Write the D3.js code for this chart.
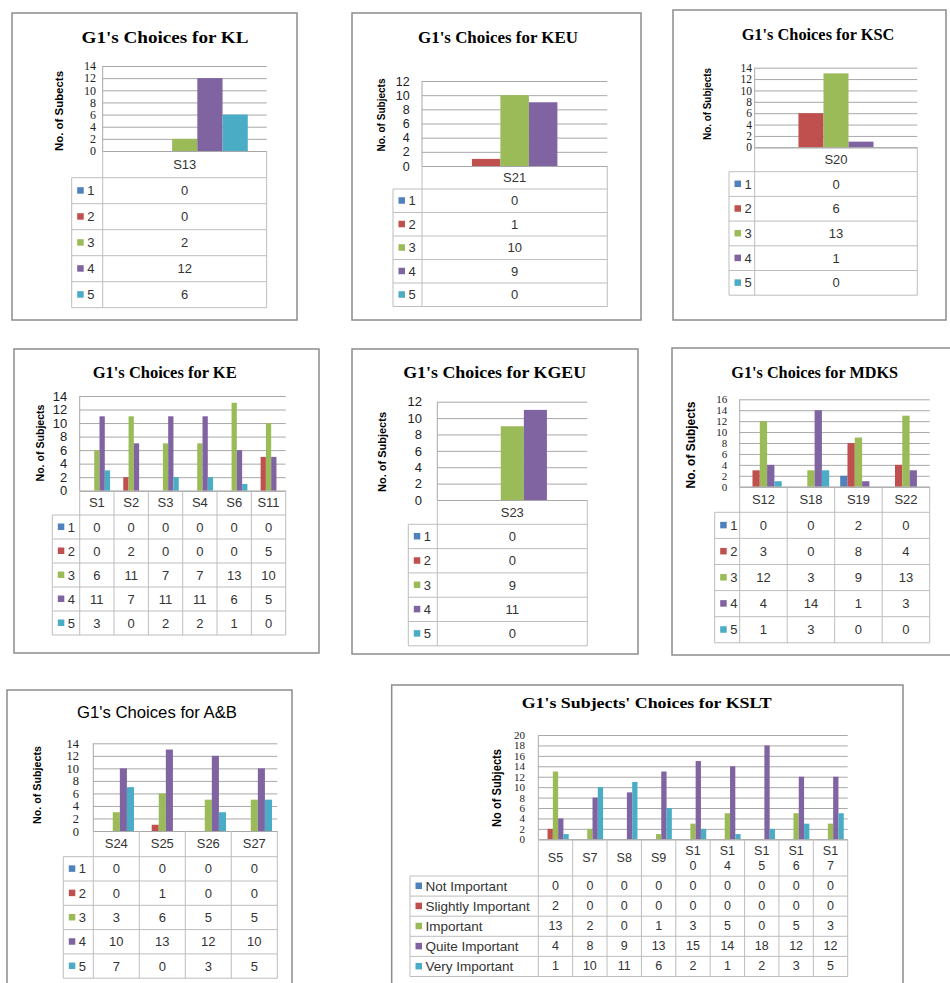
<!DOCTYPE html>
<html>
<head>
<meta charset="utf-8">
<script src="https://cdn.jsdelivr.net/npm/d3@7"></script>
<style>
body { margin: 0; background: #fff; }
svg { display: block; }
</style>
</head>
<body>
<svg id="chart" width="950" height="983"></svg>
<script>
// series (rows of every table)
const series_colors = ["#4F81BD", "#C0504D", "#9BBB59", "#8064A2", "#4BACC6"];
const rating_names = ["1", "2", "3", "4", "5"];
const kslt_names = ["Not Important", "Slightly Important", "Important", "Quite Important", "Very Important"];

// values per series, one entry per category
const kl_cats = ["S13"];
const kl_values = [[0], [0], [2], [12], [6]];

const keu_cats = ["S21"];
const keu_values = [[0], [1], [10], [9], [0]];

const ksc_cats = ["S20"];
const ksc_values = [[0], [6], [13], [1], [0]];

const ke_cats = ["S1", "S2", "S3", "S4", "S6", "S11"];
const ke_values = [
    [0, 0, 0, 0, 0, 0],
    [0, 2, 0, 0, 0, 5],
    [6, 11, 7, 7, 13, 10],
    [11, 7, 11, 11, 6, 5],
    [3, 0, 2, 2, 1, 0]
];

const kgeu_cats = ["S23"];
const kgeu_values = [[0], [0], [9], [11], [0]];

const mdks_cats = ["S12", "S18", "S19", "S22"];
const mdks_values = [
    [0, 0, 2, 0],
    [3, 0, 8, 4],
    [12, 3, 9, 13],
    [4, 14, 1, 3],
    [1, 3, 0, 0]
];

const ab_cats = ["S24", "S25", "S26", "S27"];
const ab_values = [
    [0, 0, 0, 0],
    [0, 1, 0, 0],
    [3, 6, 5, 5],
    [10, 13, 12, 10],
    [7, 0, 3, 5]
];

const kslt_cats = ["S5", "S7", "S8", "S9", "S10", "S14", "S15", "S16", "S17"];
const kslt_values = [
    [0, 0, 0, 0, 0, 0, 0, 0, 0],
    [2, 0, 0, 0, 0, 0, 0, 0, 0],
    [13, 2, 0, 1, 3, 5, 0, 5, 3],
    [4, 8, 9, 13, 15, 14, 18, 12, 12],
    [1, 10, 11, 6, 2, 1, 2, 3, 5]
];

const SERIF = "'Liberation Serif', 'Times New Roman', serif";
const SANS = "'Liberation Sans', Arial, sans-serif";
const grid_color = "#a8a8a8";
const table_color = "#bdbdbd";

// layout of every panel
var panels = [
    {title: "G1's Choices for KL", cats: kl_cats, values: kl_values, names: rating_names,
     box: [12, 13, 297, 320], titleX: 165, titleY: 43, titleSize: 17, titleW: 167,
     left: 102.7, right: 266.7, top: 66, zero: 151, yMax: 14, tickX: 96, tickFont: SERIF, tickSize: 12,
     yTitle: "No. of Subects", yTitleX: 59, yTitleY: 111, yTitleSize: 11, yTitleW: 80,
     legendL: 71.7, headBottom: 177.7, rowH: 26, tableSize: 13},
    {title: "G1's Choices for KEU", cats: keu_cats, values: keu_values, names: rating_names,
     box: [352, 13, 641, 320], titleX: 498, titleY: 43, titleSize: 17, titleW: 160,
     left: 422, right: 607.3, top: 81, zero: 166, yMax: 12, tickX: 409.7, tickFont: SANS, tickSize: 12.5,
     yTitle: "No. of Subjects", yTitleX: 381, yTitleY: 115, yTitleSize: 10, yTitleW: 73,
     legendL: 393, headBottom: 189, rowH: 23.5, tableSize: 13},
    {title: "G1's Choices for KSC", cats: ksc_cats, values: ksc_values, names: rating_names,
     box: [673, 10, 946, 320], titleX: 818, titleY: 40, titleSize: 17, titleW: 152.7,
     left: 754.7, right: 917.3, top: 67.7, zero: 147.3, yMax: 14, tickX: 752, tickFont: SERIF, tickSize: 11.5,
     yTitle: "No. of Subjects", yTitleX: 707, yTitleY: 104, yTitleSize: 10, yTitleW: 72,
     legendL: 729, headBottom: 171.7, rowH: 24.7, tableSize: 13},
    {title: "G1's Choices for KE", cats: ke_cats, values: ke_values, names: rating_names,
     box: [14, 349, 319, 653], titleX: 164.7, titleY: 378, titleSize: 17, titleW: 144,
     left: 79.7, right: 285.7, top: 396, zero: 490.7, yMax: 14, tickX: 67.3, tickFont: SANS, tickSize: 13,
     yTitle: "No. of Subjects", yTitleX: 40, yTitleY: 443, yTitleSize: 10.5, yTitleW: 77,
     legendL: 52.3, headBottom: 515, rowH: 24, tableSize: 13},
    {title: "G1's Choices for KGEU", cats: kgeu_cats, values: kgeu_values, names: rating_names,
     box: [352, 349, 638, 654], titleX: 494.7, titleY: 378, titleSize: 17, titleW: 183,
     left: 437.3, right: 587.3, top: 401.7, zero: 500, yMax: 12, tickX: 422, tickFont: SANS, tickSize: 13,
     yTitle: "No. of Subjects", yTitleX: 382, yTitleY: 452, yTitleSize: 11, yTitleW: 80,
     legendL: 408.3, headBottom: 524.3, rowH: 24.3, tableSize: 13},
    {title: "G1's Choices for MDKS", cats: mdks_cats, values: mdks_values, names: rating_names,
     box: [672, 348, 962, 655], titleX: 814.7, titleY: 378, titleSize: 17, titleW: 166.7,
     left: 739.7, right: 929.7, top: 399.3, zero: 486.7, yMax: 16, tickX: 727.3, tickFont: SERIF, tickSize: 11,
     yTitle: "No. of Subjects", yTitleX: 691.3, yTitleY: 445, yTitleSize: 12, yTitleW: 87,
     legendL: 714.7, headBottom: 512.3, rowH: 26.1, tableSize: 13},
    {title: "G1's Choices for A&B", cats: ab_cats, values: ab_values, names: rating_names,
     box: [7, 690, 292, 995], titleX: 157, titleY: 718, titleSize: 16.5, titleW: 160, titleSans: true,
     left: 93.3, right: 277.3, top: 743.3, zero: 831, yMax: 14, tickX: 79, tickFont: SERIF, tickSize: 12.5,
     yTitle: "No. of Subjects", yTitleX: 37, yTitleY: 785, yTitleSize: 10.8, yTitleW: 78,
     legendL: 63.3, headBottom: 856.7, rowH: 24.3, tableSize: 13},
    {title: "G1's Subjects' Choices for KSLT", cats: kslt_cats, values: kslt_values, names: kslt_names,
     box: [391.7, 685, 903, 995], titleX: 646.7, titleY: 708, titleSize: 14.5, titleW: 250,
     left: 538.3, right: 847.7, top: 735, zero: 839.3, yMax: 20, tickX: 525, tickFont: SERIF, tickSize: 11,
     yTitle: "No of Subjects", yTitleX: 497.3, yTitleY: 788, yTitleSize: 12, yTitleW: 78,
     legendL: 410, headBottom: 876, rowH: 20.1, tableSize: 12.5, legendSize: 13.5, wrapCats: true}
];

var svg = d3.select("#chart");

function drawPanel(p) {
    var g = svg.append("g");
    var [bx0, by0, bx1, by1] = p.box;

    g.append("rect")
        .attr("x", bx0).attr("y", by0)
        .attr("width", bx1 - bx0).attr("height", by1 - by0)
        .attr("fill", "#fff")
        .attr("stroke", "#8c8c8c")
        .attr("stroke-width", 1.5);

    g.append("text")
        .attr("x", p.titleX).attr("y", p.titleY)
        .attr("text-anchor", "middle")
        .attr("font-family", p.titleSans ? SANS : SERIF)
        .attr("font-weight", p.titleSans ? "normal" : "bold")
        .attr("font-size", p.titleSize)
        .attr("textLength", p.titleW)
        .attr("lengthAdjust", "spacingAndGlyphs")
        .attr("fill", "#000")
        .text(p.title);

    var ticks = d3.range(0, p.yMax + 1, 2);
    var y = d3.scaleLinear().domain([0, p.yMax]).range([p.zero, p.top]);
    var x0 = d3.scaleBand().domain(p.cats).range([p.left, p.right]);
    var x1 = d3.scaleBand().domain(d3.range(p.names.length))
        .range([0, x0.bandwidth()]).paddingOuter(0.75);
    var tableBottom = p.headBottom + p.rowH * p.names.length;

    // gridlines
    g.append("g")
        .attr("transform", `translate(${p.left},0)`)
        .call(d3.axisLeft(y).tickValues(ticks).tickSize(-(p.right - p.left)).tickFormat(""))
        .call(a => a.select(".domain").remove())
        .selectAll("line").attr("stroke", grid_color);

    // tick labels
    g.append("g")
        .attr("transform", `translate(${p.tickX},0)`)
        .call(d3.axisLeft(y).tickValues(ticks).tickSize(0).tickPadding(0))
        .call(a => a.select(".domain").remove())
        .attr("font-family", p.tickFont)
        .attr("font-size", p.tickSize)
        .selectAll("text").attr("fill", "#222");

    // bars
    p.values.forEach((row, i) => {
        g.append("g")
            .attr("fill", series_colors[i])
            .selectAll("rect")
            .data(row)
            .join("rect")
            .attr("x", (v, j) => x0(p.cats[j]) + x1(i))
            .attr("width", x1.bandwidth())
            .attr("y", v => y(v))
            .attr("height", v => y(0) - y(v));
    });

    // y title
    g.append("text")
        .attr("transform", `translate(${p.yTitleX},${p.yTitleY}) rotate(-90)`)
        .attr("text-anchor", "middle")
        .attr("dominant-baseline", "central")
        .attr("font-family", SANS)
        .attr("font-weight", "bold")
        .attr("font-size", p.yTitleSize)
        .attr("textLength", p.yTitleW)
        .attr("lengthAdjust", "spacingAndGlyphs")
        .attr("fill", "#000")
        .text(p.yTitle);

    // data table lines
    var tl = g.append("g").attr("stroke", table_color).attr("stroke-width", 1);
    tl.append("line")
        .attr("x1", p.left).attr("x2", p.right)
        .attr("y1", p.zero + 0.5).attr("y2", p.zero + 0.5)
        .attr("stroke", grid_color);
    d3.range(p.names.length + 1).forEach(r => {
        var yy = p.headBottom + r * p.rowH;
        tl.append("line")
            .attr("x1", p.legendL).attr("x2", p.right)
            .attr("y1", yy).attr("y2", yy);
    });
    var bounds = p.cats.map(c => x0(c)).concat([p.right]);
    bounds.forEach(bx => {
        tl.append("line")
            .attr("x1", bx).attr("x2", bx)
            .attr("y1", p.zero).attr("y2", tableBottom);
    });
    tl.append("line")
        .attr("x1", p.legendL).attr("x2", p.legendL)
        .attr("y1", p.headBottom).attr("y2", tableBottom);
    // plot left axis line
    g.append("line")
        .attr("x1", p.left).attr("x2", p.left)
        .attr("y1", p.top).attr("y2", p.zero)
        .attr("stroke", grid_color);

    // category header
    var headMid = (p.zero + p.headBottom) / 2;
    p.cats.forEach(c => {
        var cx = x0(c) + x0.bandwidth() / 2;
        var t = g.append("text")
            .attr("x", cx).attr("y", headMid)
            .attr("text-anchor", "middle")
            .attr("dominant-baseline", "central")
            .attr("font-family", SANS)
            .attr("font-size", p.tableSize)
            .attr("fill", "#333");
        if (p.wrapCats && c.length > 2) {
            t.attr("y", null).attr("dominant-baseline", null);
            t.append("tspan").attr("x", cx).attr("y", headMid - 3).text(c.slice(0, 2));
            t.append("tspan").attr("x", cx).attr("y", headMid + 12).text(c.slice(2));
        } else {
            t.text(c);
        }
    });

    // legend cells + values
    p.names.forEach((name, i) => {
        var mid = p.headBottom + (i + 0.5) * p.rowH;
        g.append("rect")
            .attr("x", p.legendL + 5.5).attr("y", mid - 3.5)
            .attr("width", 6.5).attr("height", 6.5)
            .attr("fill", series_colors[i]);
        g.append("text")
            .attr("x", p.legendL + 15.5).attr("y", mid)
            .attr("dominant-baseline", "central")
            .attr("font-family", SANS)
            .attr("font-size", p.legendSize || p.tableSize)
            .attr("fill", "#333")
            .text(name);
        p.values[i].forEach((v, j) => {
            g.append("text")
                .attr("x", x0(p.cats[j]) + x0.bandwidth() / 2).attr("y", mid)
                .attr("text-anchor", "middle")
                .attr("dominant-baseline", "central")
                .attr("font-family", SANS)
                .attr("font-size", p.tableSize)
                .attr("fill", "#333")
                .text(v);
        });
    });
}

panels.forEach(drawPanel);
</script>
</body>
</html>
